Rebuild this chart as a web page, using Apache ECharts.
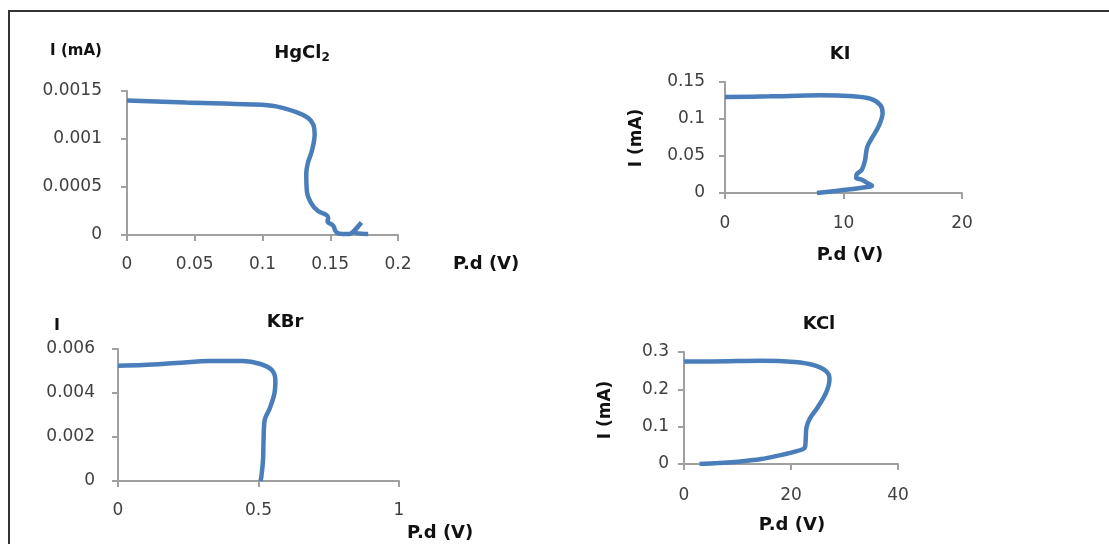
<!DOCTYPE html>
<html>
<head>
<meta charset="utf-8">
<script src="https://cdn.jsdelivr.net/npm/echarts@6/dist/echarts.min.js"></script>
<style>
html,body{margin:0;padding:0;background:#fff;}
#c{width:1109px;height:544px;}
</style>
</head>
<body>
<div id="c"></div>
<script>
// ---- Data ----
const hgX = [0, 0.0438, 0.093, 0.110, 0.125, 0.1336, 0.1375, 0.1385, 0.1365, 0.1335, 0.1323, 0.1328, 0.136, 0.141, 0.147, 0.1485, 0.148, 0.152, 0.1545, 0.159, 0.164, 0.168, 0.173, 0.168, 0.178];
const hgY = [0.0014, 0.00138, 0.00136, 0.00134, 0.00128, 0.00122, 0.00115, 0.00105, 0.00088, 0.00075, 0.00064, 0.00045, 0.00033, 0.00025, 0.00021, 0.00018, 0.00014, 0.0001, 0.00003, 0.00001, 0.00001, 0.00005, 0.00013, 0.00003, 0.00001];

const kiX = [0, 3.8, 8.0, 10.85, 12.25, 13.1, 13.3, 12.96, 12.4, 12.0, 11.8, 11.55, 11.1, 11.07, 11.55, 12.0, 12.4, 11.4, 9.44, 7.75];
const kiY = [0.1297, 0.1306, 0.132, 0.1306, 0.1275, 0.119, 0.108, 0.090, 0.0743, 0.062, 0.0428, 0.0315, 0.0248, 0.0203, 0.018, 0.0135, 0.0099, 0.0068, 0.003, 0.0];

const kbrX = [0, 0.089, 0.2076, 0.326, 0.445, 0.504, 0.546, 0.56, 0.557, 0.540, 0.522, 0.518, 0.516, 0.51, 0.507];
const kbrY = [0.00524, 0.00527, 0.00536, 0.00545, 0.00545, 0.00533, 0.00506, 0.0046, 0.004, 0.0033, 0.00277, 0.00186, 0.00094, 0.00018, 0];

const kclX = [0, 5.1, 14.45, 20.7, 24.4, 26.6, 27.2, 26.6, 25.0, 23.5, 22.9, 22.75, 22.6, 20.7, 17.6, 14.45, 10.1, 6.35, 2.9];
const kclY = [0.2748, 0.2748, 0.2766, 0.273, 0.264, 0.248, 0.228, 0.1925, 0.152, 0.121, 0.0985, 0.067, 0.0448, 0.0331, 0.0224, 0.0134, 0.0063, 0.0027, 0];

const panelTitles = ['HgCl{sub|2}', 'KI', 'KBr', 'KCl'];
const xAxisTitle = 'P.d (V)';
const yAxisTitle = 'I (mA)';
const yAxisTitleShort = 'I';

// axis ranges / intervals
const xRanges = [[0, 0.2, 0.05], [0, 20, 10], [0, 1, 0.5], [0, 40, 20]];
const yRanges = [[0, 0.0015, 0.0005], [0, 0.15, 0.05], [0, 0.006, 0.002], [0, 0.3, 0.1]];

// ---- Chart ----
const zip = (xs, ys) => xs.map((x, i) => [x, ys[i]]);
const seriesData = [zip(hgX, hgY), zip(kiX, kiY), zip(kbrX, kbrY), zip(kclX, kclY)];

const grids = [
  {left: 127, top: 91, width: 271, height: 144},
  {left: 725, top: 82, width: 237, height: 111},
  {left: 118, top: 349, width: 281, height: 132},
  {left: 684, top: 352, width: 214, height: 112}
];
const yLabelMargins = [25, 20, 23, 15];
const xLabelMargins = [21, 22, 21, 23];

const FONT = 'DejaVu Sans';
const axisLineColor = '#a0a0a0';
const labelColor = '#404040';

const xAxes = xRanges.map((r, i) => ({
  type: 'value', gridIndex: i, min: r[0], max: r[1], interval: r[2],
  axisLine: {show: true, onZero: false, lineStyle: {color: axisLineColor, width: 2}},
  axisTick: {show: true, inside: false, length: 6, lineStyle: {color: axisLineColor, width: 2}},
  splitLine: {show: false},
  axisLabel: {color: labelColor, fontFamily: FONT, fontSize: 17, margin: xLabelMargins[i]}
}));
const yAxes = yRanges.map((r, i) => ({
  type: 'value', gridIndex: i, min: r[0], max: r[1], interval: r[2],
  axisLine: {show: true, onZero: false, lineStyle: {color: axisLineColor, width: 2}},
  axisTick: {show: true, inside: false, length: 6, lineStyle: {color: axisLineColor, width: 2}},
  splitLine: {show: false},
  axisLabel: {color: labelColor, fontFamily: FONT, fontSize: 17, margin: yLabelMargins[i]}
}));

const series = seriesData.map((d, i) => ({
  type: 'line', xAxisIndex: i, yAxisIndex: i, data: d,
  showSymbol: false, smooth: 0.35, silent: true,
  lineStyle: {color: '#4a7ebb', width: 4.5},
  itemStyle: {color: '#4a7ebb'}
}));

const titlePos = [[297, 50], [835, 52], [280, 320], [814, 322]];
const titles = panelTitles.map((t, i) => ({
  text: t,
  left: titlePos[i][0], top: titlePos[i][1] - 12, textAlign: 'center',
  textStyle: {
    fontFamily: FONT, fontSize: 18, fontWeight: 'bold', color: '#111',
    rich: {sub: {fontFamily: FONT, fontSize: 12, fontWeight: 'bold', color: '#111', verticalAlign: 'bottom', padding: [9, 0, 0, 0]}}
  }
}));

const boldText = {fontFamily: FONT, fontSize: 18, fontWeight: 'bold', fill: '#111'};
function txt(s, x, y, align, rot, size) {
  return {
    type: 'text', x: x, y: y, rotation: rot || 0,
    style: Object.assign({}, boldText, {text: s, align: align, verticalAlign: 'middle', fontSize: size || 18})
  };
}

const graphic = [
  // outer frame (top & left edges)
  {type: 'line', shape: {x1: 8, y1: 11, x2: 1109, y2: 11}, style: {stroke: '#333', lineWidth: 2}},
  {type: 'line', shape: {x1: 9, y1: 11, x2: 9, y2: 544}, style: {stroke: '#333', lineWidth: 2}},
  // axis titles
  txt(yAxisTitle, 76, 51, 'center', 0, 15),
  txt(xAxisTitle, 453, 264, 'left'),
  txt(yAxisTitle, 637, 138, 'center', Math.PI / 2, 17),
  txt(xAxisTitle, 850, 255, 'center'),
  txt(yAxisTitleShort, 57, 326, 'center', 0, 16),
  txt(xAxisTitle, 407, 533, 'left'),
  txt(yAxisTitle, 606, 410, 'center', Math.PI / 2, 17),
  txt(xAxisTitle, 792, 525, 'center')
];

const chart = echarts.init(document.getElementById('c'), null, {renderer: 'canvas'});
chart.setOption({
  animation: false,
  backgroundColor: '#fff',
  title: titles,
  grid: grids,
  xAxis: xAxes,
  yAxis: yAxes,
  series: series,
  graphic: graphic
});
</script>
</body>
</html>
